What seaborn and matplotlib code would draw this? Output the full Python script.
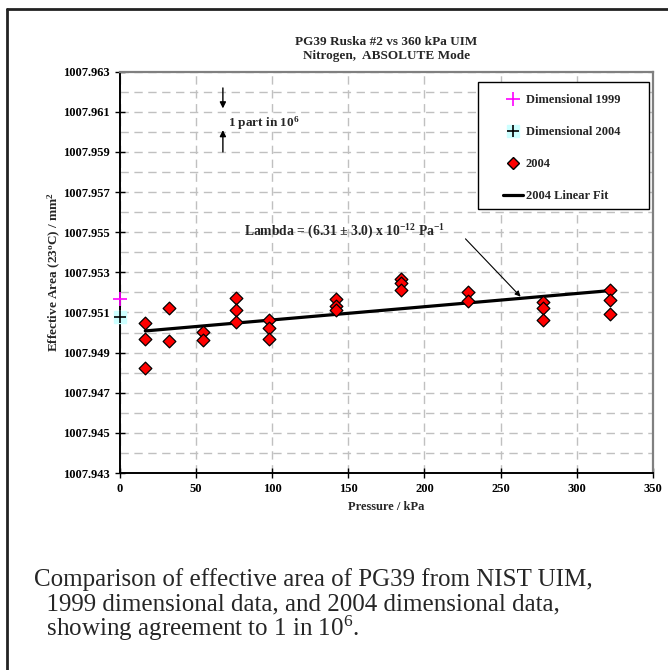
import numpy as np
import pandas as pd
import seaborn as sns
import matplotlib
matplotlib.use("Agg")
import matplotlib.pyplot as plt
from matplotlib.lines import Line2D
from matplotlib.patches import Rectangle
from matplotlib.legend_handler import HandlerTuple
from matplotlib.ticker import FixedLocator, MultipleLocator, FormatStrFormatter

# ---------------- data ----------------
pressure_2004 = [16.6, 16.6, 16.6, 32.5, 32.5, 54.4, 54.4, 76.1, 76.1, 76.1,
                 98.0, 98.0, 98.0, 141.7, 141.7, 141.7, 184.9, 184.9, 184.9,
                 228.5, 228.5, 278.0, 278.0, 278.0, 321.9, 321.9, 321.9]
area_2004 = [1007.95050, 1007.94970, 1007.94823, 1007.95122, 1007.94959,
             1007.95004, 1007.94965, 1007.95172, 1007.95110, 1007.95055,
             1007.95064, 1007.95022, 1007.94967, 1007.95167, 1007.95130,
             1007.95112, 1007.95267, 1007.95245, 1007.95210, 1007.95204,
             1007.95159, 1007.95150, 1007.95122, 1007.95062, 1007.95212,
             1007.95162, 1007.95092]
fit_pressure = [16.6, 321.9]
fit_area = [1007.95008, 1007.95209]
dim1999_pressure = [0.0]
dim1999_area = [1007.95167]
dim2004_pressure = [0.0]
dim2004_area = [1007.95075]

x_ticks = [0, 50, 100, 150, 200, 250, 300, 350]
y_ticks = [1007.943, 1007.945, 1007.947, 1007.949, 1007.951, 1007.953,
           1007.955, 1007.957, 1007.959, 1007.961, 1007.963]

title = "PG39 Ruska #2 vs 360 kPa UIM\nNitrogen,  ABSOLUTE Mode"
xlabel = "Pressure / kPa"
ylabel = "Effective Area (23$^{\\mathrm{o}}$C) / mm$^{2}$"
legend_labels = ["Dimensional 1999", "Dimensional 2004", "2004", "2004 Linear Fit"]
caption_lines = ["Comparison of effective area of PG39 from NIST UIM,",
                 "  1999 dimensional data, and 2004 dimensional data,",
                 "  showing agreement to 1 in 10$^{\\mathregular{6}}$."]

df = pd.DataFrame({"Pressure": pressure_2004, "Area": area_2004})
fit_df = pd.DataFrame({"Pressure": fit_pressure, "Area": fit_area})

# ---------------- style ----------------
sns.set_style("white")
plt.rcParams["font.family"] = ["Liberation Serif", "DejaVu Serif"]
plt.rcParams["mathtext.fontset"] = "custom"
plt.rcParams["mathtext.rm"] = "Liberation Serif:bold"
plt.rcParams["mathtext.it"] = "Liberation Serif:bold"
plt.rcParams["mathtext.bf"] = "Liberation Serif:bold"
plt.rcParams["font.weight"] = "bold"

fig = plt.figure(figsize=(6.68, 6.70), dpi=100)
ax = fig.add_axes([120 / 668, 1 - 473 / 670, 532.7 / 668, 401.3 / 670])

# grid
ax.set_xlim(x_ticks[0], x_ticks[-1])
ax.set_ylim(y_ticks[0], y_ticks[-1])
ax.xaxis.set_major_locator(FixedLocator(x_ticks))
ax.yaxis.set_major_locator(FixedLocator(y_ticks))
ax.yaxis.set_minor_locator(MultipleLocator(0.001))
ax.yaxis.set_major_formatter(FormatStrFormatter("%.3f"))
ax.grid(True, which="both", color="#c0c0c0", linestyle=(0, (6, 4)), linewidth=1.0)
ax.set_axisbelow(True)

# fit line
sns.lineplot(data=fit_df, x="Pressure", y="Area", ax=ax, color="black",
             linewidth=2.3, legend=False, zorder=3)
# 2004 points
sns.scatterplot(data=df, x="Pressure", y="Area", ax=ax, marker="D", s=42,
                color="#ff0000", edgecolor="black", linewidth=0.9, zorder=4,
                legend=False)
# dimensional points
ax.plot(dim2004_pressure, dim2004_area, marker="s", markersize=9, linestyle="none",
        color="#ccffff", markeredgecolor="#ccffff", clip_on=False, zorder=5)
ax.plot(dim2004_pressure, dim2004_area, marker="+", markersize=9, linestyle="none",
        color="black", markeredgewidth=1.2, clip_on=False, zorder=6)
ax.plot(dim1999_pressure, dim1999_area, marker="+", markersize=10, linestyle="none",
        color="#ff00ff", markeredgewidth=1.2, clip_on=False, zorder=6)

# axes styling
for side in ["left", "bottom"]:
    ax.spines[side].set_color("black")
    ax.spines[side].set_linewidth(1.4)
for side in ["top", "right"]:
    ax.spines[side].set_color("#808080")
    ax.spines[side].set_linewidth(1.6)
ax.tick_params(axis="both", which="major", direction="inout", length=7, width=1.0,
               labelsize=9, colors="black", left=True, bottom=True, pad=4)
ax.tick_params(axis="y", which="minor", left=False)
for lab in ax.get_xticklabels() + ax.get_yticklabels():
    lab.set_fontweight("bold")

ax.set_xlabel(xlabel, fontsize=9, fontweight="bold", labelpad=4)
ax.set_ylabel(ylabel, fontsize=9.5, fontweight="bold", labelpad=0)
ax.set_title(title, fontsize=9.5, fontweight="bold", pad=9, linespacing=1.25)

# legend box (drawn separately) + legend entries
ax.add_patch(Rectangle((478 / 668, 1 - 209 / 670), 171 / 668, 127 / 670,
                       transform=fig.transFigure, facecolor="white",
                       edgecolor="black", linewidth=1.0, zorder=7))
h1999 = Line2D([], [], marker="+", color="#ff00ff", linestyle="none", markersize=10,
               markeredgewidth=1.2)
h2004sq = Line2D([], [], marker="s", color="#ccffff", linestyle="none", markersize=8)
h2004p = Line2D([], [], marker="+", color="black", linestyle="none", markersize=8,
                markeredgewidth=1.2)
hpts = Line2D([], [], marker="D", color="#ff0000", markeredgecolor="black",
              linestyle="none", markersize=6)
hfit = Line2D([], [], color="black", linewidth=2.3)
leg = ax.legend([h1999, (h2004sq, h2004p), hpts, hfit], legend_labels,
                handler_map={tuple: HandlerTuple(ndivide=1, pad=0)},
                loc="upper left", numpoints=1,
                bbox_to_anchor=(503 / 668, 1 - 94 / 670),
                bbox_transform=fig.transFigure,
                frameon=False,
                prop={"weight": "bold", "size": 9}, labelspacing=1.6,
                handlelength=1.6, handletextpad=0.2, borderpad=0,
                borderaxespad=0)
leg.set_zorder(8)

# annotations
ax.annotate("", xy=(67.6, 1007.96117), xytext=(67.6, 1007.96219),
            arrowprops=dict(arrowstyle="-|>", color="black", lw=1.0,
                            mutation_scale=9, shrinkA=0, shrinkB=0))
ax.annotate("", xy=(67.6, 1007.96009), xytext=(67.6, 1007.9590),
            arrowprops=dict(arrowstyle="-|>", color="black", lw=1.0,
                            mutation_scale=9, shrinkA=0, shrinkB=0))
ax.text(71.0, 1007.96045, "1 part in 10$^{6}$", fontsize=9.5, fontweight="bold",
        va="center", ha="left")
ax.text(81.5, 1007.95500, "Lambda = (6.31 \u00b1 3.0) x 10$^{-12}$ Pa$^{-1}$",
        fontsize=9.8, fontweight="bold", va="center", ha="left")
ax.annotate("", xy=(263.2, 1007.95179), xytext=(227.0, 1007.95467),
            arrowprops=dict(arrowstyle="-|>", color="black", lw=0.8,
                            mutation_scale=8, shrinkA=0, shrinkB=0))

# outer frame
fig.add_artist(Line2D([7 / 668, 7 / 668], [0, 1 - 9 / 670], transform=fig.transFigure,
                      color="#222222", linewidth=2))
fig.add_artist(Line2D([7 / 668, 1], [1 - 9 / 670, 1 - 9 / 670], transform=fig.transFigure,
                      color="#222222", linewidth=2))

# caption
for i, line in enumerate(caption_lines):
    fig.text(34 / 668, 1 - (580 + 24 * i) / 670, line, fontsize=18,
             fontweight="normal", va="center", ha="left",
             family=["Liberation Serif", "DejaVu Serif"])

fig.savefig("out.png", dpi=100)
